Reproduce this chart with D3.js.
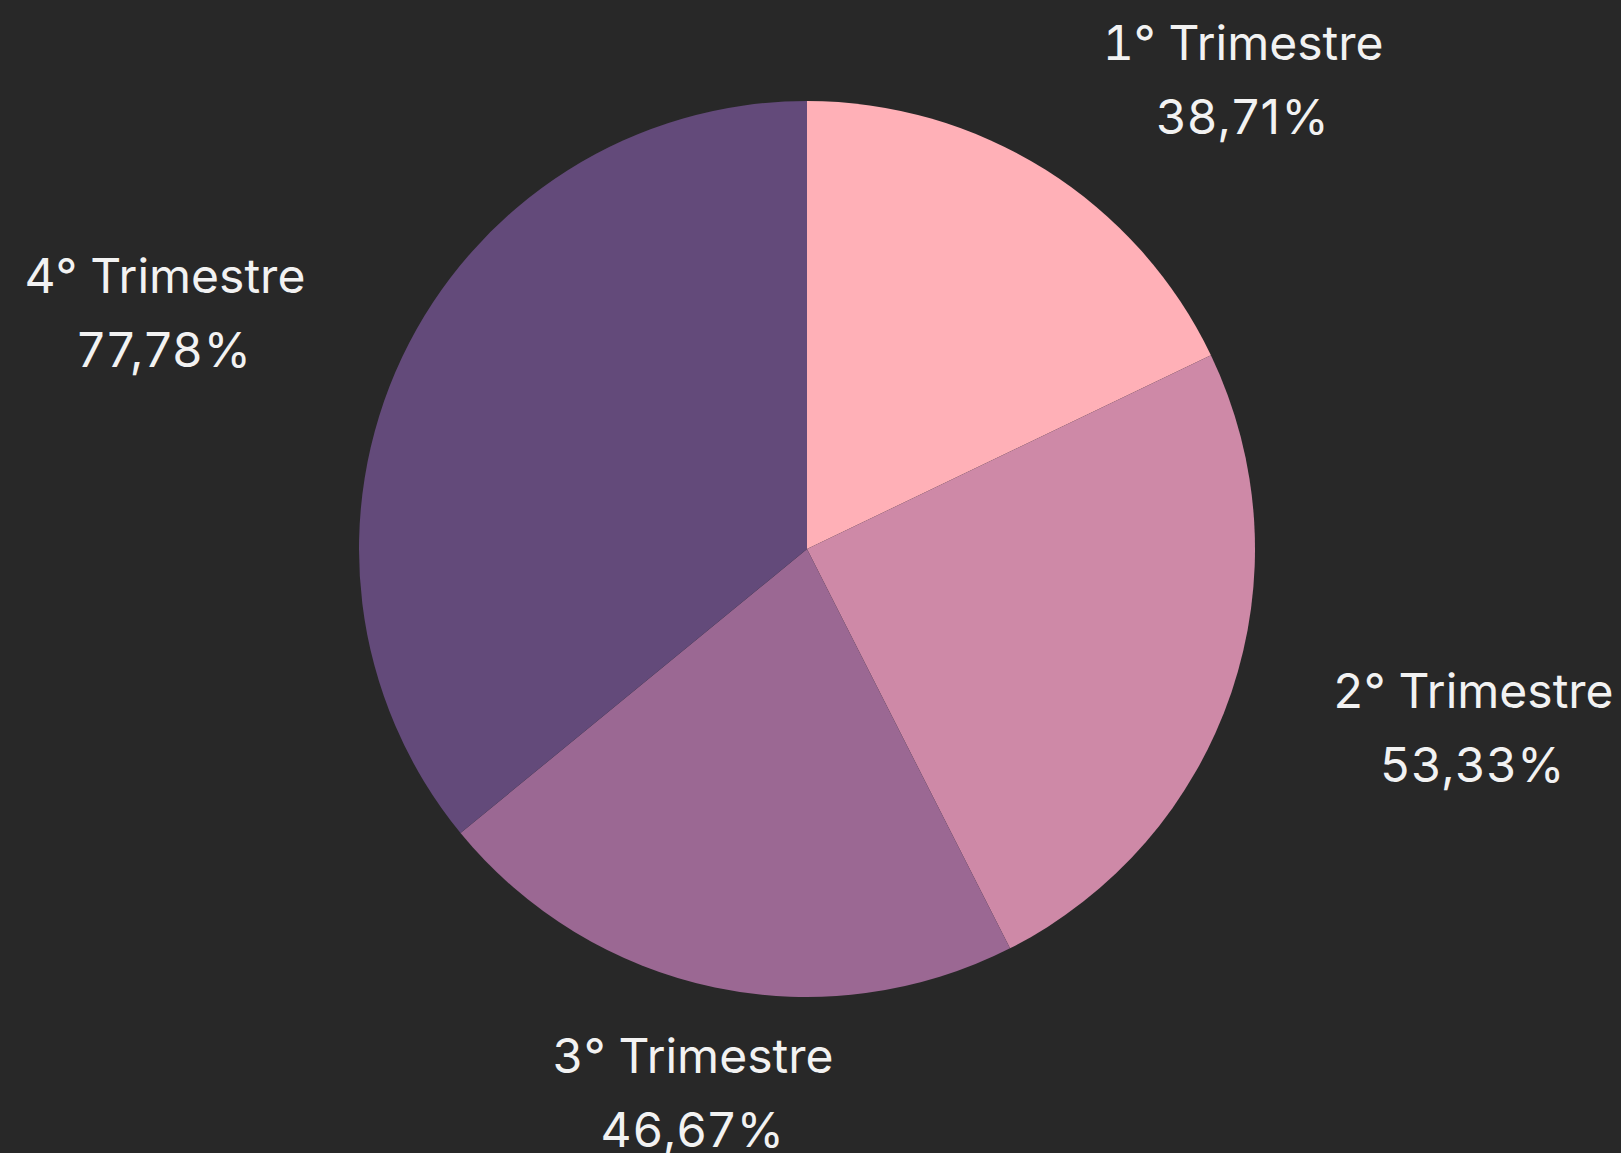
<!DOCTYPE html>
<html lang="es">
<head>
  <meta charset="UTF-8">
  <title>Trimestres</title>
  <style>
    html, body { margin: 0; padding: 0; background: #282828; }
    svg { display: block; }
    .etiqueta text.nombre { font-feature-settings: "tnum" 1; font-variant-numeric: tabular-nums; }
  </style>
</head>
<body>

<svg id="chart" width="1621" height="1153"></svg>

<script src="https://cdn.jsdelivr.net/npm/d3@7"></script>
<script>
// datos del grafico
var trimestres = ["1° Trimestre", "2° Trimestre", "3° Trimestre", "4° Trimestre"];
var porcentajes = [38.71, 53.33, 46.67, 77.78];
var colores = ["#ffb0b7", "#ce89a7", "#9b6893", "#634a7a"];

var svg = d3.select("#chart"),
  width = +svg.attr("width"),
  height = +svg.attr("height"),
  cx = 807, cy = 549,
  radio = 448,
  radioEtiqueta = 555;

var color = d3.scaleOrdinal().domain(trimestres).range(colores);

var pie = d3.pie()
  .sort(null)
  .value(function (d, i) { return porcentajes[i]; });

var arc = d3.arc().innerRadius(0).outerRadius(radio);

var datos = pie(trimestres);

var g = svg.append("g").attr("transform", "translate(" + cx + "," + cy + ")");

g.selectAll("path")
  .data(datos)
  .enter().append("path")
  .attr("d", arc)
  .attr("fill", function (d) { return color(d.data); });

var fmt = function (v) { return v.toFixed(2).replace(".", ",") + "%"; };

var etiquetas = g.selectAll("g.etiqueta")
  .data(datos)
  .enter().append("g")
  .attr("class", "etiqueta")
  .attr("font-family", "Inter, 'Noto Sans', sans-serif")
  .attr("font-size", 48)
  .attr("fill", "#f2f2f2")
  .attr("text-anchor", "middle");

etiquetas.append("text").attr("class", "nombre").attr("y", -19).text(function (d) { return d.data; });
etiquetas.append("text").attr("y", 55)
  .attr("letter-spacing", 1.5)
  .text(function (d) { return fmt(porcentajes[d.index]); });

// posicion: angulo medio del sector, corrida hacia afuera por media anchura si esta de costado
etiquetas.attr("transform", function (d) {
  var a = (d.startAngle + d.endAngle) / 2;
  var s = Math.sin(a), c = Math.cos(a);
  var w = this.getBBox().width / 2;
  var x = radioEtiqueta * s + (Math.abs(s) > 0.5 ? Math.sign(s) * w : 0);
  var y = -radioEtiqueta * c;
  return "translate(" + x + "," + y + ")";
});
</script>

</body>
</html>
